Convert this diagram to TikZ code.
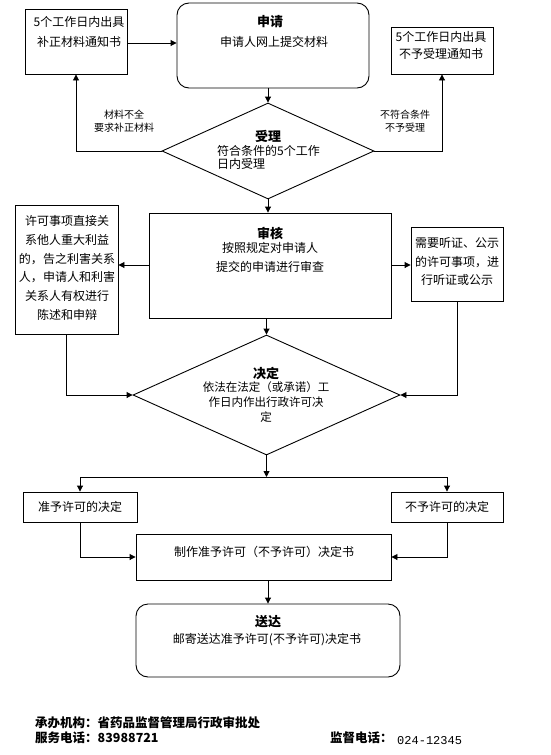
\documentclass[tikz,border=0pt]{standalone}
\usepackage{fontspec}
\newfontfamily\cjk{Noto Sans CJK SC}
\newfontfamily\monof{Liberation Mono}
\usetikzlibrary{shapes.geometric,arrows.meta}
\begin{document}
\begin{tikzpicture}[x=1pt,y=-1pt,
  box/.style={draw, line width=0.9pt, inner sep=0pt},
  rbox/.style={box, rounded corners=12pt},
  dia/.style={draw, diamond, line width=0.9pt, inner sep=0pt},
  arr/.style={line width=0.9pt, -{Triangle[length=6pt,width=6pt]}},
  ln/.style={line width=0.9pt},
  txt/.style={font=\cjk\fontsize{12}{19}\selectfont, align=center, inner sep=0pt},
  ttl/.style={font=\cjk\bfseries\fontsize{13}{15}\selectfont, inner sep=0pt},
  lbl/.style={font=\cjk\fontsize{10}{13}\selectfont, align=center, inner sep=0pt},
  foot/.style={font=\cjk\bfseries\fontsize{12.5}{14}\selectfont, inner sep=0pt, anchor=west}
]
\useasboundingbox (0,0) rectangle (550,755);
\fill[white] (0,0) rectangle (550,755);

% shapes
\node[box, minimum width=102pt, minimum height=65pt] (bz) at (76,41.5) {};
\node[rbox, minimum width=192pt, minimum height=85pt] (sq) at (273,45.5) {};
\node[box, minimum width=102pt, minimum height=47pt] (bsl) at (442,50.5) {};
\node[dia, minimum width=212pt, minimum height=96pt] (sl) at (268,151) {};
\node[box, minimum width=242pt, minimum height=105pt] (sh) at (270,265.5) {};
\node[box, minimum width=103pt, minimum height=129pt] (ll) at (66.5,269.5) {};
\node[box, minimum width=92pt, minimum height=74pt] (tz) at (457,264) {};
\node[dia, minimum width=267pt, minimum height=120pt] (jd) at (266.5,395) {};
\node[box, minimum width=114pt, minimum height=30pt] (zy) at (80,507) {};
\node[box, minimum width=112pt, minimum height=30pt] (by) at (447,507) {};
\node[box, minimum width=255pt, minimum height=46pt] (zz) at (263.5,557) {};
\node[rbox, minimum width=264pt, minimum height=73pt] (sd) at (268,640.5) {};

% texts
\node[txt, font=\cjk\fontsize{12}{20}\selectfont] (t1) at (79,32) {5个工作日内出具\\补正材料通知书};
\node[ttl] (t2) at (270,22) {申请};
\node[txt] (t3) at (274,42) {申请人网上提交材料};
\node[txt, font=\cjk\fontsize{12}{16.5}\selectfont] (t4) at (441,45.5) {5个工作日内出具\\不予受理通知书};
\node[ttl] (t5) at (268,136) {受理};
\node[txt, align=left, anchor=west, font=\cjk\fontsize{12}{13}\selectfont] (t6) at (217,157.5) {符合条件的5个工作\\日内受理};
\node[lbl] (l1) at (124,121.5) {材料不全\\要求补正材料};
\node[lbl] (l2) at (405,121.5) {不符合条件\\不予受理};
\node[ttl] (t7) at (270,233) {审核};
\node[txt] (t8) at (270,257.5) {按照规定对申请人\\提交的申请进行审查};
\node[txt, font=\cjk\fontsize{12}{18.8}\selectfont] (t9) at (67,268) {许可事项直接关\\系他人重大利益\\的，告之利害关系\\人，申请人和利害\\关系人有权进行\\陈述和申辩};
\node[txt, font=\cjk\fontsize{12}{18.5}\selectfont] (t10) at (457,261.5) {需要听证、公示\\的许可事项，进\\行听证或公示};
\node[ttl] (t11) at (266,373) {决定};
\node[txt, font=\cjk\fontsize{11.5}{15}\selectfont] (t12) at (266,402) {依法在法定（或承诺）工\\作日内作出行政许可决\\定};
\node[txt] (t13) at (80,507) {准予许可的决定};
\node[txt] (t14) at (447,507) {不予许可的决定};
\node[txt] (t15) at (264,552) {制作准予许可（不予许可）决定书};
\node[ttl] (t16) at (268,622) {送达};
\node[txt] (t17) at (267,640) {邮寄送达准予许可(不予许可)决定书};

\node[foot] (f1) at (35,723) {承办机构：省药品监督管理局行政审批处};
\node[foot] (f2) at (35,738) {服务电话：83988721};
\node[foot] (f3) at (330,738) {监督电话：};
\node[inner sep=0pt, anchor=west, font=\monof\fontsize{12}{14}\selectfont] (f4) at (397,741) {024-12345};

% connectors
\draw[arr] (bz.east |- 0,43) -- (sq.west |- 0,43);
\draw[arr] (sl.north |- sq.south) -- (sl.north);
\draw[arr] (sl.west) -| (bz.south);
\draw[arr] (sl.east) -| (bsl.south);
\draw[arr] (sl.south) -- (sl.south |- sh.north);
\draw[arr] (sh.west |- 0,265) -- (ll.east |- 0,265);
\draw[arr] (sh.east |- 0,265) -- (tz.west |- 0,265);
\draw[arr] (jd.north |- sh.south) -- (jd.north);
\draw[arr] (ll.south) |- (jd.west);
\draw[arr] (tz.south) |- (jd.east);
\coordinate (j) at (jd.south |- 0,477);
\draw[arr] (jd.south) -- (j);
\draw[arr] (j) -| (zy.north);
\draw[arr] (j) -| (by.north);
\draw[arr] (zy.south) |- (zz.west);
\draw[arr] (by.south) |- (zz.east);
\draw[arr] (zz.south -| sd.north) -- (sd.north);
\end{tikzpicture}
\end{document}
